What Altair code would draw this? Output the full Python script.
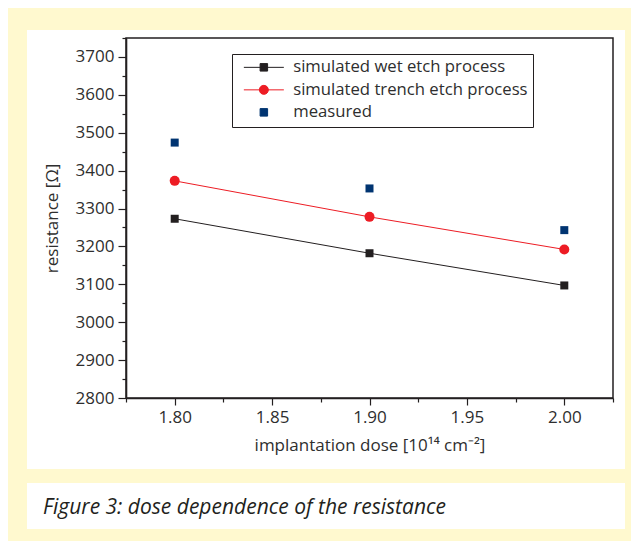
import altair as alt
import pandas as pd

# ---- data ----
dose = [1.80, 1.90, 2.00]
wet_etch = [3273, 3182, 3097]
trench_etch = [3373, 3278, 3192]
measured = [3474, 3353, 3243]

series_names = ["simulated wet etch process", "simulated trench etch process", "measured"]
series_colors = ["#231f20", "#ed1c24", "#003471"]

x_ticks = [1.775, 1.800, 1.825, 1.850, 1.875, 1.900, 1.925, 1.950, 1.975, 2.000, 2.025]
y_ticks = [2800, 2850, 2900, 2950, 3000, 3050, 3100, 3150, 3200, 3250, 3300,
           3350, 3400, 3450, 3500, 3550, 3600, 3650, 3700, 3750]

x_title = "implantation dose [10¹⁴ cm⁻²]"
y_title = "resistance [Ω]"
caption = "Figure 3: dose dependence of the resistance"

FONT = "Open Sans"
INK = "#231f20"
TXT = "#2e2e2e"
BG = "#fff9cf"

rows = []
for name, vals in zip(series_names, [wet_etch, trench_etch, measured]):
    for d, v in zip(dose, vals):
        rows.append({"dose": d, "resistance": v, "series": name})
df = pd.DataFrame(rows)

W, H = 487, 360

xscale = alt.Scale(domain=[1.775, 2.025], nice=False, zero=False)
yscale = alt.Scale(domain=[2800, 3750], nice=False, zero=False)
cscale = alt.Scale(domain=series_names, range=series_colors)

x_major = "abs(datum.value*20 - round(datum.value*20)) < 0.001"
x_axis = alt.Axis(
    values=x_ticks, title=x_title, grid=False, zindex=1,
    labelExpr=x_major + " ? format(datum.value, '.2f') : ''",
    labelOverlap=False, labelFlush=False,
    tickSize={"condition": {"test": x_major, "value": 7}, "value": 4},
    tickColor=INK, tickWidth=1.2, domainColor=INK, domainWidth=1.6,
    labelFont=FONT, labelFontSize=17, labelColor=TXT, labelPadding=4,
    titleFont=FONT, titleFontSize=17, titleFontWeight="normal", titleColor=TXT, titlePadding=12,
)
y_axis = alt.Axis(
    values=y_ticks, title=y_title, grid=False, zindex=1,
    labelExpr="datum.value % 100 == 0 ? format(datum.value, 'd') : ''",
    labelOverlap=False, labelFlush=False,
    tickSize={"condition": {"test": "datum.value % 100 == 0", "value": 8}, "value": 4},
    tickColor=INK, tickWidth=1.2, domainColor=INK, domainWidth=1.6,
    labelFont=FONT, labelFontSize=17, labelColor=TXT, labelPadding=4,
    titleFont=FONT, titleFontSize=17, titleFontWeight="normal", titleColor=TXT, titlePadding=14,
)

X = alt.X("dose:Q", scale=xscale, axis=x_axis)
Y = alt.Y("resistance:Q", scale=yscale, axis=y_axis)

one = pd.DataFrame({"k": [0]})

panel = alt.Chart(one).mark_rect(color="white").encode(
    x=alt.value(-99), x2=alt.value(499), y=alt.value(-8), y2=alt.value(431))
frame = alt.Chart(one).mark_rect(filled=False, stroke=INK, strokeWidth=1.5).encode(
    x=alt.value(0), x2=alt.value(W), y=alt.value(0), y2=alt.value(H))
cap_panel = alt.Chart(one).mark_rect(color="white").encode(
    x=alt.value(-99), x2=alt.value(499), y=alt.value(445), y2=alt.value(491))
cap_text = alt.Chart(one).mark_text(
    align="left", baseline="alphabetic", font=FONT, fontSize=21, fontStyle="italic", color=INK
).encode(x=alt.value(-83), y=alt.value(476), text=alt.value(caption))

base = alt.Chart(df)

def only(name):
    return base.transform_filter(alt.datum.series == name)

line_wet = only(series_names[0]).mark_line(strokeWidth=1, color=series_colors[0]).encode(x=X, y=Y)
line_trench = only(series_names[1]).mark_line(strokeWidth=1, color=series_colors[1]).encode(x=X, y=Y)

pts_wet = only(series_names[0]).mark_point(
    shape="square", filled=True, size=64, opacity=1, color=series_colors[0]).encode(x=X, y=Y)
pts_trench = only(series_names[1]).mark_point(
    shape="circle", filled=True, size=100, opacity=1, color=series_colors[1]).encode(x=X, y=Y)
pts_meas = only(series_names[2]).mark_point(
    shape="square", filled=True, size=64, opacity=1, color=series_colors[2]).encode(x=X, y=Y)

legend_shapes = [
    "M-4,0H4M-0.75,-0.75H0.75V0.75H-0.75Z",
    "M-4,0H4M0.9,0A0.9,0.9,0,1,1,-0.9,0A0.9,0.9,0,1,1,0.9,0Z",
    "M-0.75,-0.75H0.75V0.75H-0.75Z",
]
legend = alt.Legend(
    title=None, orient="none", legendX=106, legendY=16, direction="vertical",
    fillColor="white", strokeColor=INK, padding=5, cornerRadius=0,
    labelFont=FONT, labelFontSize=16.7, labelColor=TXT, labelLimit=400,
    symbolOffset=18.5, labelOffset=21, rowPadding=4.5, symbolSize=100, symbolStrokeWidth=1,
)
legend_layer = base.transform_filter("false").mark_point(
    filled=True, size=100, opacity=1, strokeWidth=1).encode(
    x=X, y=Y,
    color=alt.Color("series:N", scale=cscale, legend=legend),
    stroke=alt.Stroke("series:N", scale=alt.Scale(domain=series_names, range=series_colors), legend=legend),
    shape=alt.Shape("series:N", scale=alt.Scale(domain=series_names, range=legend_shapes), legend=legend),
)

chart = alt.layer(
    panel, frame, cap_panel, cap_text, line_wet, line_trench,
    pts_wet, pts_trench, pts_meas, legend_layer
).properties(
    width=W, height=H,
    background=BG,
    padding={"left": 118, "top": 30, "right": 18, "bottom": 143},
    autosize=alt.AutoSizeParams(type="none"),
).configure_view(stroke=INK, strokeWidth=1.5)

chart.save("out.html", embed_options={"renderer": "svg", "actions": False})
